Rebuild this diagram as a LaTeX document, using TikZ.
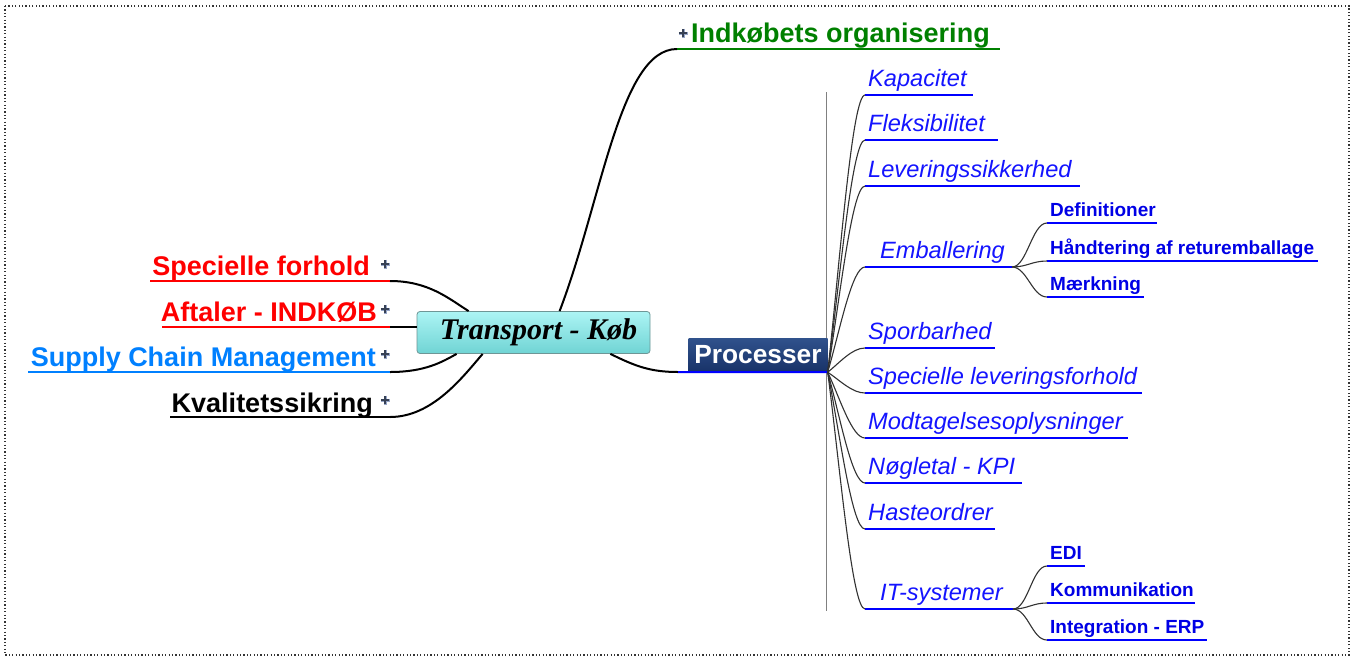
\documentclass[tikz,border=0pt]{standalone}
\usepackage{fontspec}
\setmainfont{Liberation Sans}
\newfontfamily\centralfont{Liberation Serif}
\usetikzlibrary{calc}
\definecolor{topicred}{RGB}{255,0,0}
\definecolor{topicblue}{RGB}{0,128,255}
\definecolor{topicgreen}{RGB}{0,128,0}
\definecolor{subblue}{RGB}{20,20,255}
\definecolor{boldblue}{RGB}{0,0,230}
\definecolor{navytop}{RGB}{48,82,140}
\definecolor{navybot}{RGB}{24,50,104}
\definecolor{cyantop}{RGB}{172,244,244}
\definecolor{cyanbot}{RGB}{112,212,212}
\definecolor{plusc}{RGB}{55,65,85}
\definecolor{plusedge}{RGB}{150,165,200}
\definecolor{fanc}{RGB}{50,50,50}
\tikzset{
  conn/.style={line width=2pt, black},
  fan/.style={line width=1.1pt, fanc},
  uline/.style={line width=1.3pt, blue},
  lefttopic/.style={font=\fontsize{27}{31}\selectfont\bfseries, inner sep=0pt},
  subtopic/.style={font=\fontsize{23.6}{27}\selectfont\itshape, text=subblue, inner sep=0pt},
  subsub/.style={font=\fontsize{19}{22}\selectfont\bfseries, text=boldblue, inner sep=0pt},
  centralbox/.style={draw={rgb,255:red,110;green,150;blue,150}, line width=0.8pt, rounded corners=3pt,
    top color=cyantop, bottom color=cyanbot, minimum width=233pt, minimum height=42pt, inner sep=0pt},
  procbox/.style={top color=navytop, bottom color=navybot, minimum width=139pt, minimum height=34pt,
    inner sep=0pt, text=white, font=\fontsize{26.3}{30}\selectfont\bfseries},
  plussign/.pic={
    \draw[line width=3pt, plusedge] (-4.5,0) -- (4.5,0) (0,-4.5) -- (0,4.5);
    \draw[line width=1.8pt, plusc] (-4,0) -- (4,0) (0,-4) -- (0,4);}
}
\begin{document}
\begin{tikzpicture}[x=1pt,y=-1pt]
\useasboundingbox (0,0) rectangle (1354,657);
\fill[white] (0,0) rectangle (1354,657);
\draw[line width=1.2pt, dash pattern=on 1.2pt off 2.2pt, black!80] (5,6) rectangle (1349,655);

% vertical gray line
\draw[line width=1pt, gray] (826,92) -- (826,611);

% central nodes
\node[centralbox] (T) at (533.5,332.5) {};
\node[font=\centralfont\fontsize{30}{34}\selectfont\bfseries\itshape, inner sep=0pt] (Tt) at ($(T.center)+(5,0)$) {Transport - Køb};
\node[procbox] (P) at (758,355) {Processer};

% left topics
\node[lefttopic, text=topicred, anchor=base east] (sf) at (370,275) {Specielle forhold};
\node[lefttopic, text=topicred, anchor=base east] (af) at (377,321) {Aftaler - INDKØB};
\node[lefttopic, text=topicblue, anchor=base east] (sc) at (376,366) {Supply Chain Management};
\node[lefttopic, text=black, anchor=base east] (kv) at (373,412) {Kvalitetssikring};

\coordinate (sfE) at (390,281);
\coordinate (afE) at (390,326.5);
\coordinate (scE) at (390,372);
\coordinate (kvE) at (390,417);

\draw[line width=2pt, topicred] (150,281) -- (sfE);
\draw[line width=2pt, topicred] (162,326.5) -- (afE);
\draw[line width=2pt, topicblue] (28,372) -- (scE);
\draw[line width=2pt, black] (170,417) -- (kvE);

\pic at (385,264) {plussign};
\pic at (385,309) {plussign};
\pic at (385,354) {plussign};
\pic at (385,400) {plussign};

\draw[conn] (sfE) .. controls (428,281) and (448,298) .. ($(T.north west)+(52,0)$);
\draw[conn] (afE) -- (afE -| T.west);
\draw[conn] (scE) .. controls (425,372) and (442,362) .. ($(T.south west)+(40,0)$);
\draw[conn] (kvE) .. controls (432,417) and (462,378) .. ($(T.south west)+(66,0)$);

% top green topic
\coordinate (ioS) at (677,49);
\draw[line width=2pt, topicgreen] (ioS) -- (1000,49);
\node[lefttopic, text=topicgreen, anchor=base west] (io) at (691,42) {Indkøbets organisering};
\pic at (683,33) {plussign};
\draw[conn] ($(T.north west)+(143,0)$) .. controls (602,200) and (620,49) .. (ioS);

% Processer connector
\coordinate (pS) at (678,372);
\draw[conn] ($(T.south east)+(-40,0)$) .. controls (635,366) and (650,372) .. (pS);
\draw[line width=2pt, blue] (pS) -- (P.south east);

% right subtopics
\foreach \n/\y/\e/\tx/\t in {
  kap/95/973/868/Kapacitet,
  fle/140/998/868/Fleksibilitet,
  lev/186/1080/868/Leveringssikkerhed,
  emb/267/1012/880/Emballering,
  spo/348/995/868/Sporbarhed,
  spl/393/1142/868/Specielle leveringsforhold,
  mod/438/1128/868/Modtagelsesoplysninger,
  nog/483/1022/868/Nøgletal - KPI,
  has/529/995/868/Hasteordrer,
  its/609/1013/880/IT-systemer}{
  \coordinate (\n) at (865,\y);
  \node[subtopic, anchor=base west] (\n-t) at (\tx,\y-9) {\t};
  \draw[uline] (\n) -- (\e,\y);
  \draw[fan] (P.south east) .. controls (840,{372+(\y-372)*0.4}) and (852,\y) .. (\n);
}

% sub-sub topics
\coordinate (embJ) at (1012,267);
\coordinate (itsJ) at (1013,609);
\foreach \j/\n/\y/\e/\t in {
  embJ/defi/223/1157/Definitioner,
  embJ/hand/261/1318/Håndtering af returemballage,
  embJ/maer/297/1144/Mærkning,
  itsJ/edi/566/1085/EDI,
  itsJ/kom/603/1195/Kommunikation,
  itsJ/inte/640/1207/Integration - ERP}{
  \coordinate (\n) at (1047,\y);
  \node[subsub, anchor=base west] (\n-t) at (1050,\y-6.5) {\t};
  \draw[uline] (\n) -- (\e,\y);
  \draw[fan] (\j) .. controls ($(\j)+(15,0)$) and (1032,\y) .. (\n);
}
\end{tikzpicture}
\end{document}
